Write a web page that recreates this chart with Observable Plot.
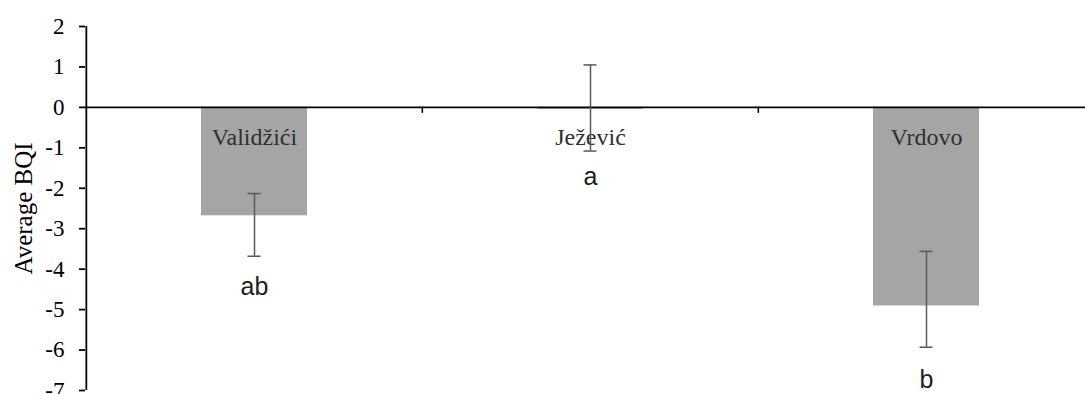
<!DOCTYPE html>
<html>
<head>
<meta charset="utf-8">
<script src="https://cdn.jsdelivr.net/npm/d3@7"></script>
<script src="https://cdn.jsdelivr.net/npm/@observablehq/plot@0.6"></script>
<style>
  html, body { margin: 0; padding: 0; background: white; overflow: hidden; }
</style>
</head>
<body>
<div id="chart"></div>
<script>
const categories = ["Validžići", "Ježević", "Vrdovo"];
const means = [-2.68, -0.05, -4.91];
const errLow = [-3.68, -1.08, -5.93];
const errHigh = [-2.13, 1.05, -3.56];
const letters = ["ab", "a", "b"];
const letterY = [-4.45, -1.72, -6.74];
const yTicks = [2, 1, 0, -1, -2, -3, -4, -5, -6, -7];
const yLabel = "Average BQI";

const data = categories.map((c, i) => ({
  cat: c, mean: means[i], lo: errLow[i], hi: errHigh[i], letter: letters[i], ly: letterY[i]
}));

const W = 1085, H = 394;
const xRange = [85, 1094];
const step = (xRange[1] - xRange[0]) / categories.length;
const serif = "Liberation Serif";

const chart = Plot.plot({
  width: W,
  height: H,
  marginLeft: 85,
  marginRight: 0,
  marginTop: 26,
  marginBottom: 4,
  style: { fontFamily: serif, background: "white", color: "black", overflow: "visible" },
  x: { domain: categories, range: xRange, padding: 0, axis: null },
  y: { domain: [-7, 2] },
  marks: [
    Plot.barY(data, { x: "cat", y: "mean", fill: "#a5a5a5", insetLeft: 115, insetRight: 115 }),
    Plot.text(data, { x: "cat", y: () => 0, text: "cat", dy: 30, fontSize: 24, fill: "#303030", fontFamily: serif }),
    Plot.ruleY([0], { stroke: "black", strokeWidth: 1.6 }),
    Plot.ruleX(categories.slice(1), { x: d => d, y1: () => 0, y2: () => 0, dx: -step / 2, insetBottom: -6, stroke: "black", strokeWidth: 1.5 }),
    Plot.ruleX([categories[0]], { x: d => d, y1: () => -7, y2: () => 2, dx: -step / 2, stroke: "black", strokeWidth: 1.8 }),
    Plot.ruleX(data, { x: "cat", y1: "lo", y2: "hi", stroke: "#595959", strokeWidth: 1.5 }),
    Plot.tickY(data, { x: "cat", y: "lo", insetLeft: 161.5, insetRight: 161.5, stroke: "#595959", strokeWidth: 1.5 }),
    Plot.tickY(data, { x: "cat", y: "hi", insetLeft: 161.5, insetRight: 161.5, stroke: "#595959", strokeWidth: 1.5 }),
    Plot.text(data, { x: "cat", y: "ly", text: "letter", fontFamily: "Liberation Sans", fontSize: 25, fill: "#202020" }),
    Plot.axisY({ ticks: yTicks, tickFormat: d => String(d), tickSize: 6, tickPadding: 15, fontSize: 23, fontFamily: serif, label: null, stroke: "black", strokeWidth: 1.8 }),
    Plot.text([yLabel], { frameAnchor: "left", textAnchor: "middle", rotate: -90, dx: -62, fontSize: 25, fill: "black", fontFamily: serif })
  ]
});
document.getElementById("chart").appendChild(chart);
</script>
</body>
</html>
